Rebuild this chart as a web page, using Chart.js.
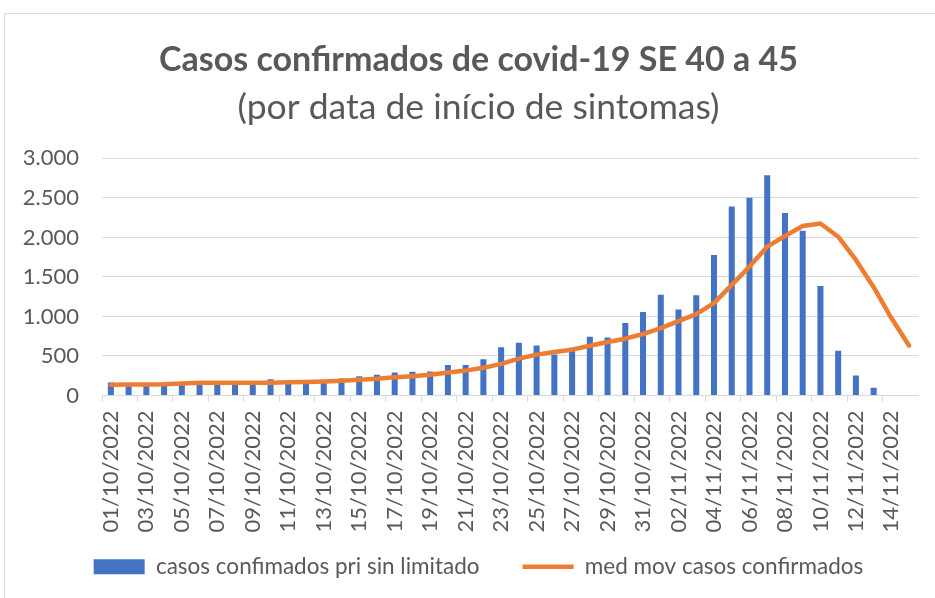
<!DOCTYPE html>
<html>
<head>
<meta charset="utf-8">
<script src="https://cdn.jsdelivr.net/npm/chart.js@4/dist/chart.umd.min.js"></script>
<style>
  html, body { margin: 0; padding: 0; background: #fff; overflow: hidden; }
  #wrap { position: relative; width: 935px; height: 598px; }
  #frame { position: absolute; left: 4px; top: 13px; width: 1000px; height: 1000px; border: 1px solid #d9d9d9; box-sizing: border-box; }
  canvas { position: absolute; left: 0; top: 0; }
</style>
</head>
<body>
<div id="wrap">
  <div id="frame"></div>
  <canvas id="mychart" width="935" height="598"></canvas>
</div>
<script>
// datas 01/10/2022 a 15/11/2022
var datas = ['01/10/2022','02/10/2022','03/10/2022','04/10/2022','05/10/2022','06/10/2022','07/10/2022','08/10/2022',
  '09/10/2022','10/10/2022','11/10/2022','12/10/2022','13/10/2022','14/10/2022','15/10/2022','16/10/2022',
  '17/10/2022','18/10/2022','19/10/2022','20/10/2022','21/10/2022','22/10/2022','23/10/2022','24/10/2022',
  '25/10/2022','26/10/2022','27/10/2022','28/10/2022','29/10/2022','30/10/2022','31/10/2022','01/11/2022',
  '02/11/2022','03/11/2022','04/11/2022','05/11/2022','06/11/2022','07/11/2022','08/11/2022','09/11/2022',
  '10/11/2022','11/11/2022','12/11/2022','13/11/2022','14/11/2022','15/11/2022']
// barras
var casos = [165, 140, 140, 140, 158, 170, 158, 158, 140, 207,
  152, 160, 158, 215, 245, 261, 290, 299, 303, 387,
  387, 460, 609, 666, 632, 520, 603, 742, 733, 916,
  1055, 1274, 1089, 1270, 1778, 2392, 2501, 2787, 2308, 2085,
  1387, 567, 252, 97, 5, 0]
// media movel
var mediaMovel = [135, 138, 140, 142, 152, 160, 162, 162, 160, 162,
  168, 172, 178, 188, 200, 213, 230, 245, 262, 290,
  315, 350, 400, 466, 517, 551, 580, 630, 677, 719,
  778, 853, 940, 1030, 1169, 1400, 1631, 1883, 2018, 2144,
  2177, 2009, 1715, 1370, 980, 630]
var yTicks = [0, 500, 1000, 1500, 2000, 2500, 3000]

var cinza = '#595959'
var fonte = 'Lato, "Open Sans", sans-serif'

var ctx = document.getElementById('mychart').getContext('2d')
var grafico = new Chart(ctx, {
    type: 'bar',
    data: {
        labels: datas,
        datasets: [{
            type: 'bar',
            label: 'casos confimados pri sin limitado',
            data: casos,
            backgroundColor: '#4472C4',
            borderWidth: 0,
            barPercentage: 0.34,
            categoryPercentage: 1,
            pointStyle: 'rect',
            order: 1
        }, {
            type: 'line',
            label: 'med mov casos confirmados',
            data: mediaMovel,
            borderColor: '#ED7D31',
            backgroundColor: '#ED7D31',
            borderWidth: 4.5,
            borderCapStyle: 'round',
            borderJoinStyle: 'round',
            pointRadius: 0,
            tension: 0,
            pointStyle: 'line',
            order: 0
        }]
    },
    options: {
        responsive: false,
        animation: false,
        layout: { padding: { left: 22, right: 0, top: 0, bottom: 10 } },
        plugins: {
            tooltip: { enabled: false },
            title: {
                display: true,
                text: 'Casos confirmados de covid-19 SE 40 a 45',
                color: cinza,
                font: { family: fonte, size: 34, weight: 'bold' },
                padding: { top: 40, bottom: 0 }
            },
            subtitle: {
                display: true,
                text: '(por data de início de sintomas)',
                color: cinza,
                font: { family: fonte, size: 35.5, weight: 'normal' },
                padding: { top: 5, bottom: 30 }
            },
            legend: {
                position: 'bottom',
                labels: {
                    color: cinza,
                    font: { family: fonte, size: 22.5 },
                    usePointStyle: true,
                    pointStyleWidth: 51,
                    boxHeight: 15,
                    padding: 43,
                    sort: (a, b) => a.datasetIndex - b.datasetIndex
                }
            }
        },
        scales: {
            x: {
                offset: true,
                grid: {
                    offset: true,
                    drawOnChartArea: false,
                    tickLength: 6,
                    color: (c) => c.index % 2 === 0 ? '#d9d9d9' : 'rgba(0,0,0,0)'
                },
                border: { color: '#d9d9d9' },
                ticks: {
                    autoSkip: false,
                    maxRotation: 90,
                    minRotation: 90,
                    padding: 9,
                    color: cinza,
                    font: { family: fonte, size: 22 },
                    callback: function (v, i) { return i % 2 === 0 ? datas[i] : '' }
                },
                afterFit: (axis) => {
                    axis.height = 117
                    axis.paddingLeft = 0
                    axis.paddingRight = 17
                    // rótulos passam um pouco da caixa do eixo, sem cortar
                    axis._computeLabelArea = function () { return undefined }
                }
            },
            y: {
                min: 0,
                max: 3000,
                afterBuildTicks: (axis) => { axis.ticks = yTicks.map(v => ({ value: v })) },
                grid: { color: '#d9d9d9', drawTicks: false },
                border: { display: false },
                ticks: {
                    padding: 23,
                    color: cinza,
                    font: { family: fonte, size: 22 },
                    callback: (v) => v.toLocaleString('pt-BR')
                },
                afterFit: (axis) => { axis.width = 80 }
            }
        }
    }
})
</script>
</body>
</html>
